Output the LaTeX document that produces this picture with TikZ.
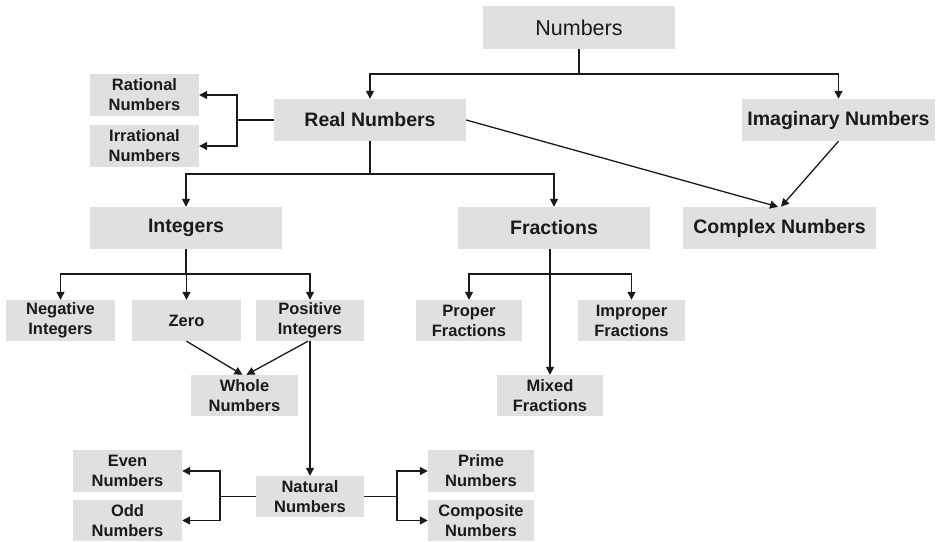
\documentclass[tikz,border=0pt]{standalone}
\usepackage{fontspec}
\setmainfont{Liberation Sans}
\usetikzlibrary{arrows.meta}
\definecolor{boxgray}{HTML}{E0E0E0}
\definecolor{ink}{HTML}{1A1A1A}
\tikzset{
  box/.style={rectangle, fill=boxgray, inner sep=0pt, align=center, text=ink, anchor=center},
  bigbox/.style={box, minimum width=192pt, minimum height=42pt, font=\fontsize{19.5}{23}\selectfont\bfseries},
  smallbox/.style={box, minimum width=108pt, minimum height=42pt, font=\fontsize{16.5}{20}\selectfont\bfseries},
  link/.style={draw=ink, line width=1.3pt},
  arr/.style={link, -{Triangle[length=8pt,width=8pt]}}
}
\begin{document}
\begin{tikzpicture}[x=1pt,y=-1pt]
\useasboundingbox (0,0) rectangle (936,541);
% nodes
\node[box, minimum width=192pt, minimum height=43pt, font=\fontsize{21.5}{25}\selectfont] (num) at (579,27.5) {Numbers};
\node[bigbox] (real) at (370,120) {Real Numbers};
\node[bigbox, minimum width=193pt] (imag) at (838.5,120) {Imaginary Numbers};
\node[smallbox, minimum width=109pt] (rat) at (144.5,95) {Rational\\Numbers};
\node[smallbox, minimum width=109pt] (irr) at (144.5,146) {Irrational\\Numbers};
\node[bigbox] (int) at (186,228) {Integers};
\node[bigbox] (frac) at (554,228) {Fractions};
\node[bigbox, minimum width=193pt] (cplx) at (779.5,228) {Complex Numbers};
\node[smallbox, minimum width=109pt, minimum height=41pt] (neg) at (60.5,320.5) {Negative\\Integers};
\node[smallbox, minimum width=109pt, minimum height=41pt] (zero) at (186.5,320.5) {Zero};
\node[smallbox, minimum height=41pt] (pos) at (310,320.5) {Positive\\Integers};
\node[smallbox, minimum width=106pt, minimum height=41pt] (prop) at (469,320.5) {Proper\\Fractions};
\node[smallbox, minimum width=107pt, minimum height=41pt] (improp) at (631.5,320.5) {Improper\\Fractions};
\node[smallbox, minimum width=107pt, minimum height=41pt] (whole) at (244.5,395.5) {Whole\\Numbers};
\node[smallbox, minimum width=106pt, minimum height=41pt] (mixed) at (550,395.5) {Mixed\\Fractions};
\node[smallbox, minimum width=109pt] (even) at (127.5,471) {Even\\Numbers};
\node[smallbox, minimum width=109pt, minimum height=41pt] (odd) at (127.5,520.5) {Odd\\Numbers};
\node[smallbox, minimum height=41pt] (nat) at (310,496.5) {Natural\\Numbers};
\node[smallbox, minimum width=106pt] (prime) at (481,471) {Prime\\Numbers};
\node[smallbox, minimum width=106pt, minimum height=41pt] (comp) at (481,520.5) {Composite\\Numbers};
% junctions
\coordinate (jn) at (579,74);
\coordinate (jrl) at (237,120);
\coordinate (jrd) at (370,174);
\coordinate (jid) at (186,274);
\coordinate (jfd) at (550,274);
\coordinate (jnl) at (220,496.5);
\coordinate (jnr) at (397,496.5);
% connectors
\draw[link] (num.south) -- (jn);
\draw[arr] (jn) -| (real.north);
\draw[arr] (jn) -| (imag.north);
\draw[link] (real.west) -- (jrl);
\draw[arr] (jrl) |- (rat.east);
\draw[arr] (jrl) |- (irr.east);
\draw[link] (real.south) -- (jrd);
\draw[arr] (jrd) -| (int.north);
\draw[arr] (jrd) -| (frac.north);
\draw[arr] (real.east) -- ([xshift=-1.5pt]cplx.north);
\draw[arr] (imag.south) -- ([xshift=1.5pt]cplx.north);
\draw[link] (int.south) -- (jid);
\draw[arr] (jid) -| (neg.north);
\draw[arr] (jid) -| (zero.north);
\draw[arr] (jid) -| (pos.north);
\draw[arr] (zero.south) -- ([xshift=-2pt]whole.north);
\draw[arr] ([xshift=-2pt]pos.south) -- ([xshift=2pt]whole.north);
\draw[arr] (pos.south) -- (nat.north);
\draw[arr] (frac.south -| mixed.north) -- (mixed.north);
\draw[arr] (jfd) -| (prop.north);
\draw[arr] (jfd) -| (improp.north);
\draw[link] (nat.west) -- (jnl);
\draw[arr] (jnl) |- (even.east);
\draw[arr] (jnl) |- (odd.east);
\draw[link] (nat.east) -- (jnr);
\draw[arr] (jnr) |- (prime.west);
\draw[arr] (jnr) |- (comp.west);
\end{tikzpicture}
\end{document}
